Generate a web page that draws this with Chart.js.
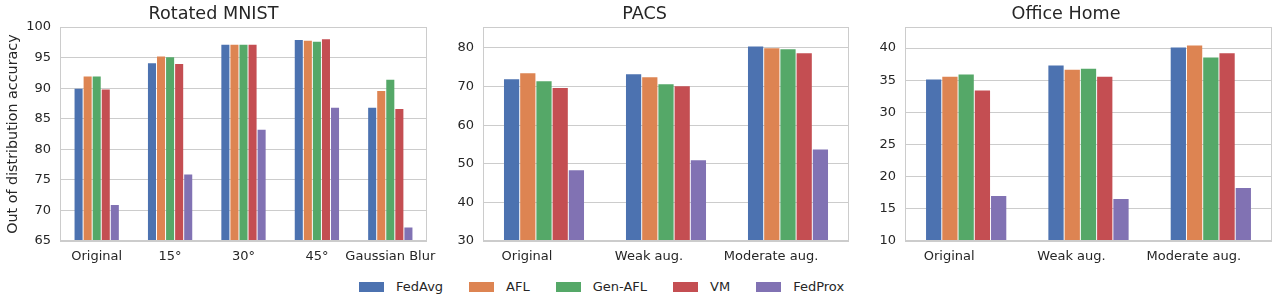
<!DOCTYPE html>
<html>
<head>
<meta charset="utf-8">
<script src="https://cdn.jsdelivr.net/npm/chart.js@4.4.0/dist/chart.umd.min.js"></script>
<style>
  body { margin: 0; width: 1279px; height: 308px; background: #fff; position: relative; overflow: hidden;
         font-family: 'DejaVu Sans', sans-serif; color: #262626; }
  .panel { position: absolute; top: 0; height: 270px; }
  #legend { position: absolute; left: 359px; top: 279px; display: flex; align-items: center; font-size: 13px; }
  .item { display: flex; align-items: center; margin-right: 26px; }
  .sw { width: 25px; height: 10px; margin-right: 12px; }
</style>
</head>
<body>
<div class="panel" style="left:0;width:440px"><canvas id="c-mnist" width="440" height="270"></canvas></div>
<div class="panel" style="left:440px;width:420px"><canvas id="c-pacs" width="420" height="270"></canvas></div>
<div class="panel" style="left:860px;width:419px"><canvas id="c-office" width="419" height="270"></canvas></div>
<div id="legend"></div>

<script>
/* ── Series / categories ───────────────────────────────── */
const methods = ['FedAvg', 'AFL', 'Gen-AFL', 'VM', 'FedProx'];
const colors  = ['#4C72B0', '#DD8452', '#55A868', '#C44E52', '#8172B3'];

// Rotated MNIST
const mnistCats    = ['Original', '15°', '30°', '45°', 'Gaussian Blur'];
const mnistFedAvg  = [89.9, 94.1, 97.1, 97.9, 86.8];
const mnistAFL     = [91.9, 95.2, 97.1, 97.75, 89.55];
const mnistGenAFL  = [91.9, 95.05, 97.1, 97.6, 91.4];
const mnistVM      = [89.8, 93.95, 97.1, 98.0, 86.6];
const mnistFedProx = [70.9, 75.9, 83.2, 86.8, 67.2];
const mnistTicks   = { min: 65, max: 100, step: 5 };

// PACS
const pacsCats    = ['Original', 'Weak aug.', 'Moderate aug.'];
const pacsFedAvg  = [71.9, 73.2, 80.4];
const pacsAFL     = [73.45, 72.4, 79.9];
const pacsGenAFL  = [71.4, 70.6, 79.65];
const pacsVM      = [69.6, 70.1, 78.6];
const pacsFedProx = [48.3, 50.9, 53.7];
const pacsTicks   = { min: 30, max: 85.4, step: 10 };

// Office Home
const officeCats    = ['Original', 'Weak aug.', 'Moderate aug.'];
const officeFedAvg  = [35.1, 37.3, 40.1];
const officeAFL     = [35.55, 36.65, 40.4];
const officeGenAFL  = [35.9, 36.8, 38.55];
const officeVM      = [33.4, 35.55, 39.2];
const officeFedProx = [17.0, 16.55, 18.25];
const officeTicks   = { min: 10, max: 43.26, step: 5 };

/* ── Styling ───────────────────────────────────────────── */
const TEXT = '#262626';
const GRID = '#cccccc';
const FONT = "'DejaVu Sans', sans-serif";

// full light-grey frame round the plot area
const framePlugin = {
  id: 'frame',
  afterDraw(chart) {
    const { ctx, chartArea: a } = chart;
    ctx.save();
    ctx.strokeStyle = GRID;
    ctx.lineWidth = 1;
    ctx.strokeRect(Math.round(a.left) + 0.5, Math.round(a.top) + 0.5,
                   Math.round(a.width) - 1, Math.round(a.height) - 1);
    ctx.restore();
  }
};

const makeChart = (id, title, cats, series, ticks, opt) => {
  new Chart(document.getElementById(id), {
    type: 'bar',
    data: {
      labels: cats,
      datasets: series.map((vals, i) => ({
        label: methods[i],
        data: vals,
        backgroundColor: colors[i],
        borderWidth: 0,
        categoryPercentage: opt.catPct,
        barPercentage: opt.barPct,
      })),
    },
    options: {
      responsive: false,
      animation: false,
      events: [],
      layout: { padding: { right: opt.padRight, top: 0, bottom: 0, left: 0 } },
      plugins: {
        legend: { display: false },
        tooltip: { enabled: false },
        title: {
          display: true,
          text: title,
          color: TEXT,
          font: { family: FONT, size: 17.6, weight: 'normal', lineHeight: 1.2 },
          padding: { top: 4, bottom: 2 },
        },
      },
      scales: {
        x: {
          grid: { display: false, drawTicks: false },
          border: { display: false },
          ticks: { color: TEXT, font: { family: FONT, size: 13 }, padding: 8,
                   labelOffset: opt.labelOffset, maxRotation: 0, autoSkip: false },
          afterFit: s => { s.height = 29; s.paddingLeft = 0; s.paddingRight = 0; },
        },
        y: {
          min: ticks.min,
          max: ticks.max,
          grid: { color: GRID, lineWidth: 1, drawTicks: false },
          border: { display: false },
          ticks: { stepSize: ticks.step, includeBounds: false, color: TEXT,
                   font: { family: FONT, size: 13 }, padding: 9 },
          title: {
            display: !!opt.yTitle,
            text: opt.yTitle || '',
            color: TEXT,
            font: { family: FONT, size: 14.3 },
            padding: { top: 5, bottom: 0 },
          },
          afterFit: s => { s.width = opt.yWidth; s.paddingTop = 0; s.paddingBottom = 0; },
        },
      },
    },
    plugins: [framePlugin],
  });
};

makeChart('c-mnist', 'Rotated MNIST', mnistCats,
  [mnistFedAvg, mnistAFL, mnistGenAFL, mnistVM, mnistFedProx], mnistTicks,
  { catPct: 0.617, barPct: 0.89, labelOffset: 0, yWidth: 60, padRight: 13,
    yTitle: 'Out of distribution accuracy' });

makeChart('c-pacs', 'PACS', pacsCats,
  [pacsFedAvg, pacsAFL, pacsGenAFL, pacsVM, pacsFedProx], pacsTicks,
  { catPct: 0.664, barPct: 0.94, labelOffset: -17, yWidth: 43, padRight: 11 });

makeChart('c-office', 'Office Home', officeCats,
  [officeFedAvg, officeAFL, officeGenAFL, officeVM, officeFedProx], officeTicks,
  { catPct: 0.664, barPct: 0.94, labelOffset: -17, yWidth: 45, padRight: 7 });

/* ── Shared legend ─────────────────────────────────────── */
const legend = document.getElementById('legend');
methods.forEach((m, i) => {
  const item = document.createElement('div');
  item.className = 'item';
  item.innerHTML = '<span class="sw" style="background:' + colors[i] + '"></span><span>' + m + '</span>';
  legend.appendChild(item);
});
</script>
</body>
</html>
